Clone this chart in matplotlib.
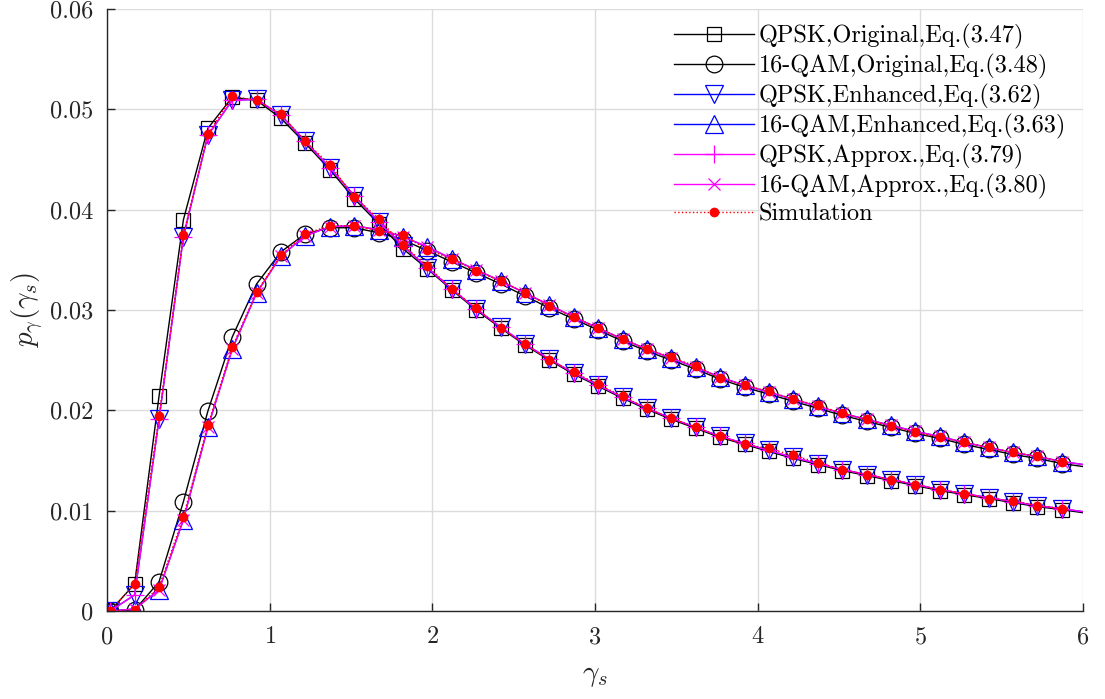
import matplotlib
matplotlib.use("Agg")
import matplotlib.pyplot as plt

plt.rcParams["font.family"] = "serif"
plt.rcParams["font.serif"] = ["cmr10"]
plt.rcParams["mathtext.fontset"] = "cm"
plt.rcParams["axes.formatter.use_mathtext"] = True

# gamma_s sample points (last one only carries the curves to the axis edge)
gamma = [0.02, 0.17, 0.32, 0.47, 0.62, 0.77, 0.92, 1.07, 1.22, 1.37,
         1.52, 1.67, 1.82, 1.97, 2.12, 2.27, 2.42, 2.57, 2.72, 2.87,
         3.02, 3.17, 3.32, 3.47, 3.62, 3.77, 3.92, 4.07, 4.22, 4.37,
         4.52, 4.67, 4.82, 4.97, 5.12, 5.27, 5.42, 5.57, 5.72, 5.87, 6.00]

qpsk_orig = [0.0000, 0.0027, 0.0214, 0.0390, 0.0481, 0.0512, 0.0509, 0.0491, 0.0466, 0.0440,
             0.0411, 0.0386, 0.0361, 0.0341, 0.0320, 0.0300, 0.0282, 0.0265, 0.0250, 0.0236,
             0.0224, 0.0212, 0.0201, 0.0191, 0.0182, 0.0173, 0.0166, 0.0159, 0.0152, 0.0146,
             0.0140, 0.0135, 0.0130, 0.0125, 0.0120, 0.0116, 0.0112, 0.0108, 0.0104, 0.0101, 0.0098]

qam16_orig = [0.0000, 0.0001, 0.0029, 0.0109, 0.0199, 0.0273, 0.0326, 0.0358, 0.0376, 0.0382,
              0.0382, 0.0377, 0.0370, 0.0359, 0.0348, 0.0337, 0.0326, 0.0314, 0.0302, 0.0291,
              0.0280, 0.0269, 0.0259, 0.0250, 0.0241, 0.0231, 0.0223, 0.0216, 0.0209, 0.0202,
              0.0195, 0.0189, 0.0183, 0.0177, 0.0172, 0.0166, 0.0161, 0.0156, 0.0152, 0.0147, 0.0144]

qpsk_enh = [0.0000, 0.0016, 0.0191, 0.0373, 0.0474, 0.0509, 0.0510, 0.0494, 0.0468, 0.0442,
            0.0414, 0.0388, 0.0364, 0.0342, 0.0321, 0.0301, 0.0283, 0.0266, 0.0251, 0.0237,
            0.0225, 0.0213, 0.0202, 0.0192, 0.0183, 0.0174, 0.0167, 0.0160, 0.0153, 0.0147,
            0.0141, 0.0136, 0.0131, 0.0126, 0.0121, 0.0117, 0.0113, 0.0109, 0.0105, 0.0102, 0.0099]

qam16_enh = [0.0000, 0.0002, 0.0021, 0.0091, 0.0183, 0.0261, 0.0317, 0.0354, 0.0374, 0.0383,
             0.0384, 0.0380, 0.0373, 0.0363, 0.0351, 0.0340, 0.0329, 0.0317, 0.0305, 0.0293,
             0.0282, 0.0271, 0.0261, 0.0252, 0.0243, 0.0233, 0.0225, 0.0218, 0.0211, 0.0204,
             0.0197, 0.0191, 0.0185, 0.0179, 0.0174, 0.0168, 0.0163, 0.0158, 0.0154, 0.0149, 0.0146]

# approximations lie on top of the enhanced curves
qpsk_approx = list(qpsk_enh)
qam16_approx = list(qam16_enh)

qpsk_sim = [0.0000, 0.0027, 0.0194, 0.0375, 0.0475, 0.0513, 0.0509, 0.0495, 0.0468, 0.0445,
            0.0413, 0.0391, 0.0365, 0.0344, 0.0321, 0.0302, 0.0282, 0.0266, 0.0250, 0.0238,
            0.0226, 0.0214, 0.0202, 0.0192, 0.0183, 0.0174, 0.0166, 0.0162, 0.0155, 0.0148,
            0.0141, 0.0136, 0.0131, 0.0126, 0.0121, 0.0117, 0.0112, 0.0110, 0.0105, 0.0102]

qam16_sim = [0.0000, 0.0001, 0.0024, 0.0094, 0.0185, 0.0263, 0.0318, 0.0355, 0.0376, 0.0384,
             0.0384, 0.0379, 0.0375, 0.0360, 0.0351, 0.0339, 0.0329, 0.0317, 0.0304, 0.0293,
             0.0282, 0.0271, 0.0261, 0.0253, 0.0244, 0.0232, 0.0225, 0.0219, 0.0211, 0.0205,
             0.0197, 0.0191, 0.0184, 0.0178, 0.0173, 0.0168, 0.0163, 0.0158, 0.0154, 0.0149]

labels = ["QPSK,Original,Eq.(3.47)", "16-QAM,Original,Eq.(3.48)",
          "QPSK,Enhanced,Eq.(3.62)", "16-QAM,Enhanced,Eq.(3.63)",
          "QPSK,Approx.,Eq.(3.79)", "16-QAM,Approx.,Eq.(3.80)", "Simulation"]

fig = plt.figure(figsize=(11.05, 6.99), dpi=100)
ax = fig.add_axes([0.0968, 0.1259, 0.8832, 0.8612])

marks = slice(0, 40)
lw = 1.0
ax.plot(gamma, qpsk_orig, "k-", marker="s", ms=9.5, mfc="none", mew=0.9, lw=lw,
        markevery=marks, label=labels[0])
ax.plot(gamma, qam16_orig, "k-", marker="o", ms=12, mfc="none", mew=0.9, lw=lw,
        markevery=marks, label=labels[1])
ax.plot(gamma, qpsk_enh, "-", color="#0000ff", marker="v", ms=13, mfc="none", mew=0.9, lw=lw,
        markevery=marks, label=labels[2])
ax.plot(gamma, qam16_enh, "-", color="#0000ff", marker="^", ms=13, mfc="none", mew=0.9, lw=lw,
        markevery=marks, label=labels[3])
ax.plot(gamma, qpsk_approx, "-", color="#ff00ff", marker="+", ms=13, mew=0.9, lw=lw,
        markevery=marks, label=labels[4])
ax.plot(gamma, qam16_approx, "-", color="#ff00ff", marker="x", ms=9, mew=0.9, lw=lw,
        markevery=marks, label=labels[5])
ax.plot(gamma[:40], qpsk_sim, ":", color="#ff0000", marker="o", ms=6, lw=lw, label=labels[6])
ax.plot(gamma[:40], qam16_sim, ":", color="#ff0000", marker="o", ms=6, lw=lw)

ax.set_xlim(0, 6)
ax.set_ylim(0, 0.06)
ax.set_xticks([0, 1, 2, 3, 4, 5, 6])
ax.set_yticks([0, 0.01, 0.02, 0.03, 0.04, 0.05, 0.06])
ax.set_yticklabels(["0", "0.01", "0.02", "0.03", "0.04", "0.05", "0.06"])
ax.grid(True, color="#dcdcdc", lw=1.0)
ax.set_axisbelow(True)
for s in ["top", "right"]:
    ax.spines[s].set_visible(False)
for s in ["left", "bottom"]:
    ax.spines[s].set_color("#262626")
    ax.spines[s].set_linewidth(1.0)
ax.tick_params(direction="in", length=6, width=1.0, colors="#262626", labelsize=17.5,
               labelcolor="#262626")
ax.tick_params(axis="y", pad=10)
ax.tick_params(axis="x", pad=11)

ax.set_xlabel(r"$\gamma_s$", fontsize=21, color="#262626", labelpad=10)
ax.set_ylabel(r"$p_\gamma(\gamma_s)$", fontsize=21, color="#262626", labelpad=3)

ax.legend(loc="upper left", bbox_to_anchor=(0.566, 1.0), frameon=False, fontsize=17.5,
          numpoints=1, handlelength=3.3, labelspacing=0.2, handletextpad=0.2,
          borderaxespad=0.2)

plt.savefig("out.png", dpi=100)
